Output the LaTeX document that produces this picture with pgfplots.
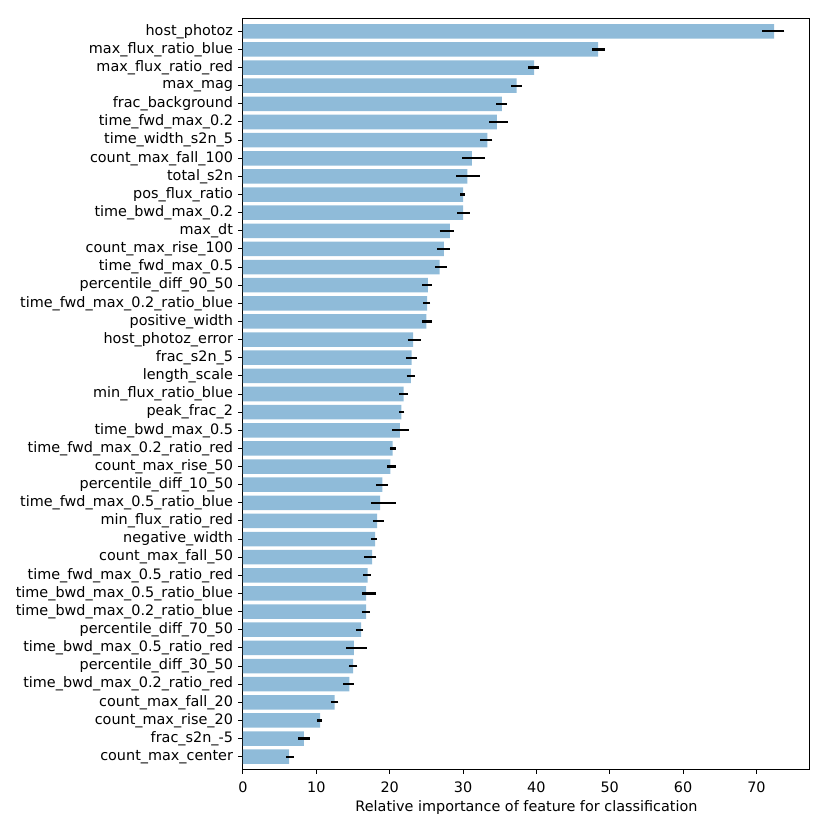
\documentclass[border=0pt]{standalone}
\usepackage{fontspec}
\setmainfont{DejaVu Sans}
\usepackage{pgfplots}
\usepackage{pgfplotstable}
\pgfplotsset{compat=1.18}
\definecolor{barc}{HTML}{8FBBD9}
\pgfplotstableread{
y v ep em
0 72.4 1.4 1.6
1 48.4 0.9 0.8
2 39.7 0.6 0.8
3 37.3 0.7 0.7
4 35.3 0.7 0.8
5 34.6 1.5 1.0
6 33.3 0.7 1.0
7 31.2 1.8 1.3
8 30.6 1.7 1.5
9 30.0 0.3 0.4
10 30.0 0.9 0.8
11 28.2 0.5 1.4
12 27.4 0.8 0.9
13 26.8 1.0 0.6
14 25.2 0.5 0.75
15 25.1 0.4 0.5
16 25.0 0.8 0.6
17 23.2 1.1 0.75
18 23.0 0.7 0.8
19 22.9 0.5 0.6
20 21.9 0.6 0.6
21 21.6 0.4 0.3
22 21.4 1.2 1.1
23 20.4 0.4 0.4
24 20.1 0.7 0.4
25 19.0 0.8 0.9
26 18.7 2.1 1.2
27 18.3 0.9 0.6
28 18.0 0.3 0.5
29 17.6 0.6 1.1
30 17.0 0.45 0.6
31 16.8 1.3 0.6
32 16.8 0.5 0.6
33 16.1 0.3 0.7
34 15.1 1.8 1.0
35 15.0 0.6 0.6
36 14.5 0.6 0.8
37 12.5 0.5 0.5
38 10.5 0.3 0.45
39 8.3 0.8 0.75
40 6.3 0.6 0.4
}\datatable
\begin{document}
\begin{tikzpicture}
\fontsize{7.2}{8.6}\selectfont
\path[use as bounding box] (-121.5pt,-30.5pt) rectangle (293.5pt,384.5pt);
\begin{axis}[
  at={(0,0)}, anchor=south west,
  scale only axis,
  width=283.5pt, height=375pt,
  xmin=0, xmax=77.3,
  ymin=-0.68, ymax=40.68,
  y dir=reverse,
  xtick={0,10,20,30,40,50,60,70},
  ytick={0,...,40},
  yticklabels={host\_photoz,max\_flux\_ratio\_blue,max\_flux\_ratio\_red,max\_mag,frac\_background,time\_fwd\_max\_0.2,time\_width\_s2n\_5,count\_max\_fall\_100,total\_s2n,pos\_flux\_ratio,time\_bwd\_max\_0.2,max\_dt,count\_max\_rise\_100,time\_fwd\_max\_0.5,percentile\_diff\_90\_50,time\_fwd\_max\_0.2\_ratio\_blue,positive\_width,host\_photoz\_error,frac\_s2n\_5,length\_scale,min\_flux\_ratio\_blue,peak\_frac\_2,time\_bwd\_max\_0.5,time\_fwd\_max\_0.2\_ratio\_red,count\_max\_rise\_50,percentile\_diff\_10\_50,time\_fwd\_max\_0.5\_ratio\_blue,min\_flux\_ratio\_red,negative\_width,count\_max\_fall\_50,time\_fwd\_max\_0.5\_ratio\_red,time\_bwd\_max\_0.5\_ratio\_blue,time\_bwd\_max\_0.2\_ratio\_blue,percentile\_diff\_70\_50,time\_bwd\_max\_0.5\_ratio\_red,percentile\_diff\_30\_50,time\_bwd\_max\_0.2\_ratio\_red,count\_max\_fall\_20,count\_max\_rise\_20,frac\_s2n\_-5,count\_max\_center},
  tick align=outside,
  tick pos=lower,
  major tick length=2.4pt,
  tick style={line width=0.5pt,black},
  axis line style={line width=0.5pt},
  /pgf/number format/assume math mode=true,
  ticklabel style={font=\fontsize{7.2}{8.6}\selectfont},
  xticklabel style={yshift=-1.2pt},
  label style={font=\fontsize{7.2}{8.6}\selectfont},
  xlabel={Relative importance of feature for classification},
  xlabel style={yshift=1pt},
  xbar, bar width=0.8, bar shift=0pt,
]
\addplot[fill=barc, draw=none,
  error bars/.cd, x dir=both, x explicit, error mark=none,
  error bar style={line width=1.1pt, black}]
  table[x=v, y=y, x error plus=ep, x error minus=em] {\datatable};
\end{axis}
\end{tikzpicture}
\end{document}
